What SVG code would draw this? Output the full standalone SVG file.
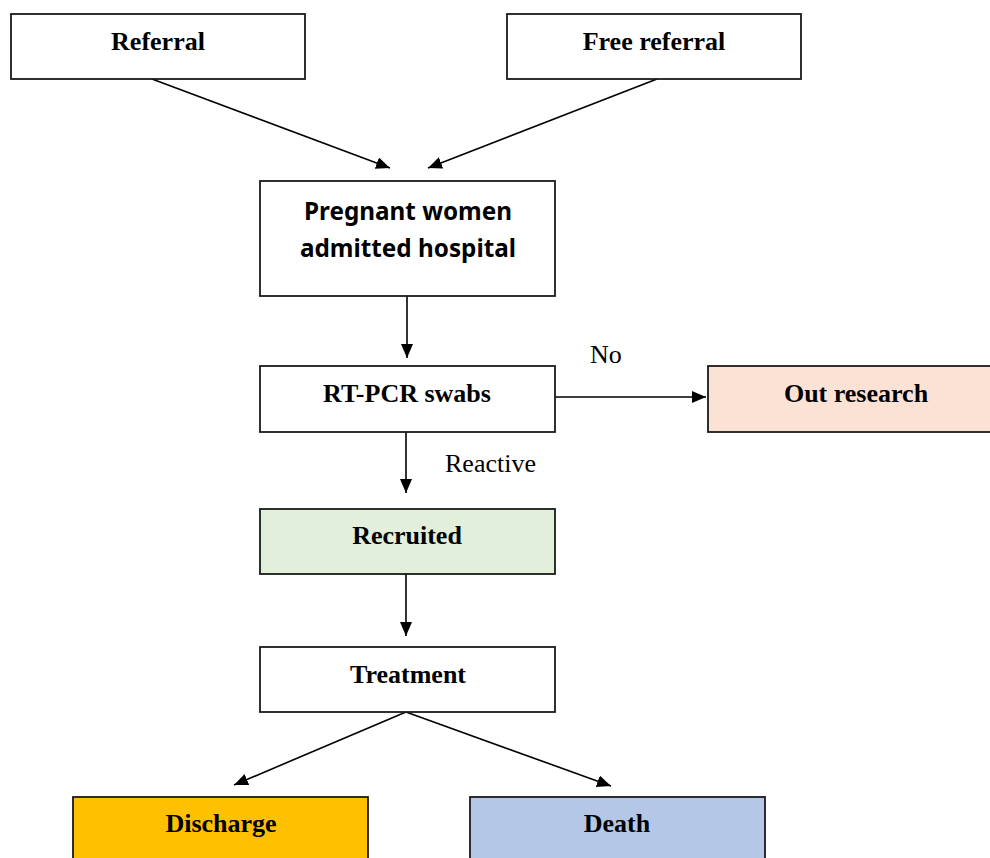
<svg xmlns="http://www.w3.org/2000/svg" width="990" height="858" viewBox="0 0 990 858">
<defs>
<style>
.box{stroke:#1a1a1a;stroke-width:1.8;fill:#fff}
.lbl{font-family:"Liberation Serif","Times New Roman",serif;font-weight:bold;font-size:26px;fill:#000;text-anchor:middle}
.reg{font-family:"Liberation Serif","Times New Roman",serif;font-size:26px;fill:#000}
.sans{font-family:"Liberation Sans Narrow","Noto Sans","Liberation Sans",sans-serif;font-weight:bold;font-size:25px;fill:#000;text-anchor:middle}
.con{stroke:#000;stroke-width:1.6;fill:none;marker-end:url(#ah)}
</style>
<marker id="ah" markerUnits="userSpaceOnUse" markerWidth="15" markerHeight="13" refX="14" refY="6" orient="auto">
<path d="M0,0 L14,6 L0,12 z" fill="#000"/>
</marker>
</defs>
<rect width="990" height="858" fill="#fff"/>
<g id="connectors">
<line class="con" x1="152" y1="79" x2="390" y2="168"/>
<line class="con" x1="657" y1="79" x2="428" y2="168"/>
<line class="con" x1="407" y1="296" x2="407" y2="358"/>
<line class="con" x1="555" y1="397" x2="706" y2="397"/>
<line class="con" x1="406" y1="432" x2="406" y2="493"/>
<line class="con" x1="406" y1="574" x2="406" y2="636"/>
<line class="con" x1="406" y1="712" x2="234" y2="785"/>
<line class="con" x1="406" y1="712" x2="611" y2="786"/>
<text class="reg" x="590" y="363">No</text>
<text class="reg" x="445" y="472">Reactive</text>
</g>
<g id="referral">
<rect class="box" x="11" y="14" width="294" height="65"/>
<text class="lbl" x="158" y="50">Referral</text>
</g>
<g id="free-referral">
<rect class="box" x="507" y="14" width="294" height="65"/>
<text class="lbl" x="654" y="50">Free referral</text>
</g>
<g id="pregnant">
<rect class="box" x="260" y="181" width="295" height="115"/>
<text class="sans" x="408" y="220" textLength="208" lengthAdjust="spacingAndGlyphs">Pregnant women</text>
<text class="sans" x="408" y="257" textLength="216" lengthAdjust="spacingAndGlyphs">admitted hospital</text>
</g>
<g id="rtpcr">
<rect class="box" x="260" y="366" width="295" height="66"/>
<text class="lbl" x="407" y="402">RT-PCR swabs</text>
</g>
<g id="out-research">
<rect class="box" x="708" y="366" width="290" height="66" style="fill:#FBE2D5"/>
<text class="lbl" x="856" y="402">Out research</text>
</g>
<g id="recruited">
<rect class="box" x="260" y="509" width="295" height="65" style="fill:#E2EFDA"/>
<text class="lbl" x="407" y="544">Recruited</text>
</g>
<g id="treatment">
<rect class="box" x="260" y="647" width="295" height="65"/>
<text class="lbl" x="408" y="683">Treatment</text>
</g>
<g id="discharge">
<rect class="box" x="73" y="797" width="295" height="70" style="fill:#FFC000"/>
<text class="lbl" x="221" y="832">Discharge</text>
</g>
<g id="death">
<rect class="box" x="470" y="797" width="295" height="70" style="fill:#B4C7E7"/>
<text class="lbl" x="617" y="832">Death</text>
</g>
</svg>
